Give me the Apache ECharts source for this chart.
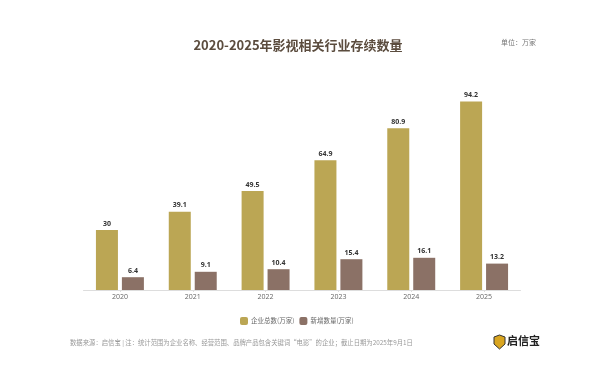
<!DOCTYPE html>
<html><head><meta charset="utf-8">
<style>html,body{margin:0;padding:0;background:#fff}#c{width:595px;height:371px}</style>
<script src="https://cdn.jsdelivr.net/npm/echarts@6/dist/echarts.min.js"></script>
</head><body><div id="c"></div>
<script>
const years = ['2020','2021','2022','2023','2024','2025'];
const enterprises = [30,39.1,49.5,64.9,80.9,94.2];
const newlyAdded = [6.4,9.1,10.4,15.4,16.1,13.2];
const FF = '"Noto Sans CJK SC","Noto Sans",sans-serif';
const chart = echarts.init(document.getElementById('c'),null,{renderer:'canvas'});
const lbl = {show:true,position:'top',distance:3,fontSize:7,fontWeight:'bold',color:'#333',fontFamily:'"Open Sans",sans-serif'};
chart.setOption({
  animation:false,
  backgroundColor:'#fff',
  title:{text:'2020-2025年影视相关行业存续数量',left:293,top:34,textAlign:'center',
    textStyle:{fontSize:13,fontWeight:'bold',color:'#5b4c3e',fontFamily:FF}},
  grid:{left:83.5,width:437,top:90,height:200},
  legend:{top:312,left:235,itemWidth:8,itemHeight:8,itemGap:5,icon:'roundRect',
    textStyle:{fontSize:6.5,color:'#666',fontFamily:FF,padding:[0,0,0,-2]}},
  xAxis:{type:'category',data:years,
    axisLine:{lineStyle:{color:'#ddd',width:1}},
    axisTick:{show:true,length:2,alignWithLabel:true,lineStyle:{color:'#ddd'}},
    axisLabel:{fontSize:7,color:'#666',margin:3,fontFamily:'"Open Sans",sans-serif'}},
  yAxis:{type:'value',min:0,max:100,show:false,splitLine:{show:false}},
  series:[
    {name:'企业总数(万家)',type:'bar',data:enterprises,barWidth:22,barGap:'18%',itemStyle:{color:'#bba654'},label:lbl},
    {name:'新增数量(万家)',type:'bar',data:newlyAdded,barWidth:22,itemStyle:{color:'#8b7166'},label:lbl}
  ],
  graphic:[
    {type:'text',left:501,top:39,style:{text:'单位：万家',fontSize:7,fill:'#777',fontFamily:FF}},
    {type:'text',left:70,top:339.5,style:{text:'数据来源：启信宝 | 注：统计范围为企业名称、经营范围、品牌产品包含关键词“电影”的企业；截止日期为2025年9月1日',fontSize:6.35,fill:'#999',fontFamily:FF}},
    {type:'polygon',shape:{points:[[494,337],[499.5,335],[505,337],[505,344],[499.5,349],[494,344]]},style:{fill:'#d9a520',stroke:'#333',lineWidth:1}},
    {type:'text',left:507,top:335,style:{text:'启信宝',fontSize:11,fontWeight:'bold',fill:'#222',fontFamily:FF}}
  ]
});
</script></body></html>
